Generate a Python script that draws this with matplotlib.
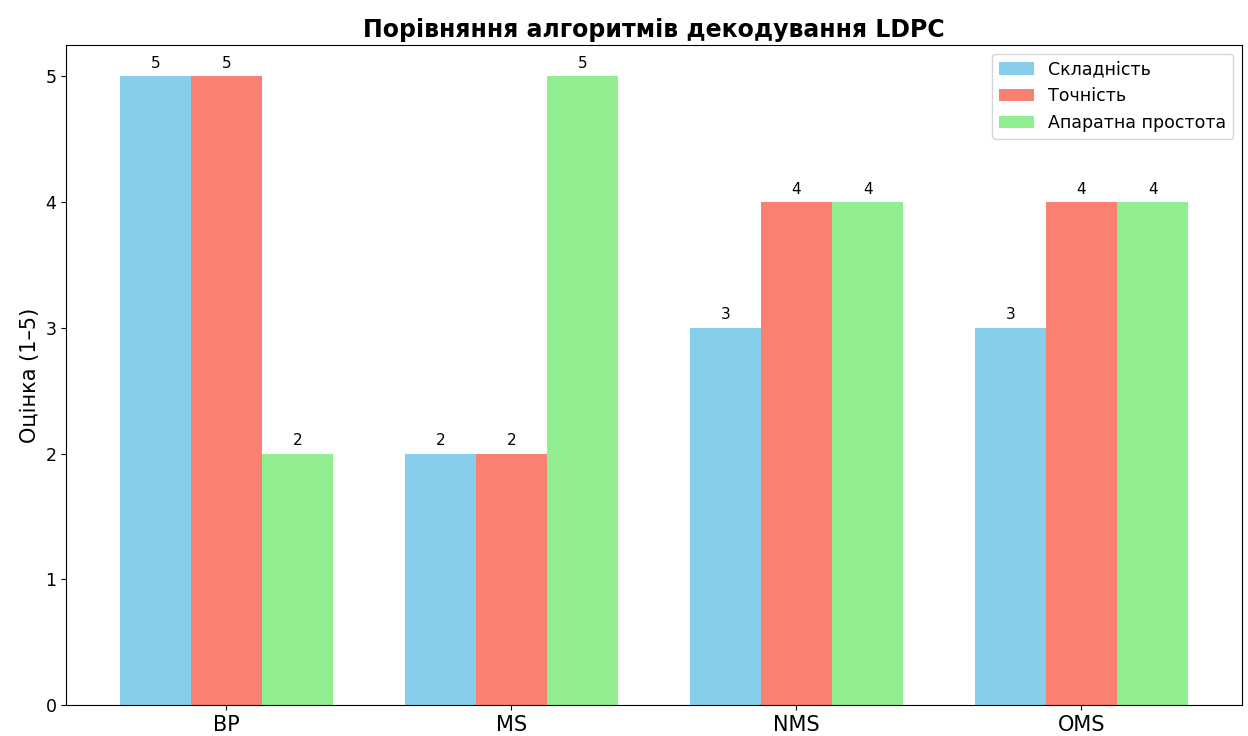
import numpy as np
import matplotlib
matplotlib.use('Agg')
import matplotlib.pyplot as plt

# алгоритми та оцінки
algorithms = ['BP', 'MS', 'NMS', 'OMS']
complexity = [5, 2, 3, 3]
accuracy = [5, 2, 4, 4]
hw_simplicity = [2, 5, 4, 4]
series_names = ['Складність', 'Точність', 'Апаратна простота']

x = np.arange(len(algorithms))
width = 0.25

fig, ax = plt.subplots(figsize=(12.48, 7.36), dpi=100)
b1 = ax.bar(x - width, complexity, width, label=series_names[0], color='skyblue')
b2 = ax.bar(x, accuracy, width, label=series_names[1], color='salmon')
b3 = ax.bar(x + width, hw_simplicity, width, label=series_names[2], color='lightgreen')

for bars in (b1, b2, b3):
    ax.bar_label(bars, padding=4, fontsize=11)

ax.set_xticks(x)
ax.set_xticklabels(algorithms, fontsize=15)
ax.tick_params(axis='y', labelsize=12.5)
ax.set_ylabel('Оцінка (1–5)', fontsize=15)
ax.set_title('Порівняння алгоритмів декодування LDPC', fontsize=17, fontweight='bold')
ax.legend(fontsize=12.5)

plt.subplots_adjust(left=0.053, right=0.995, top=0.939, bottom=0.042)
plt.savefig('out.png')
